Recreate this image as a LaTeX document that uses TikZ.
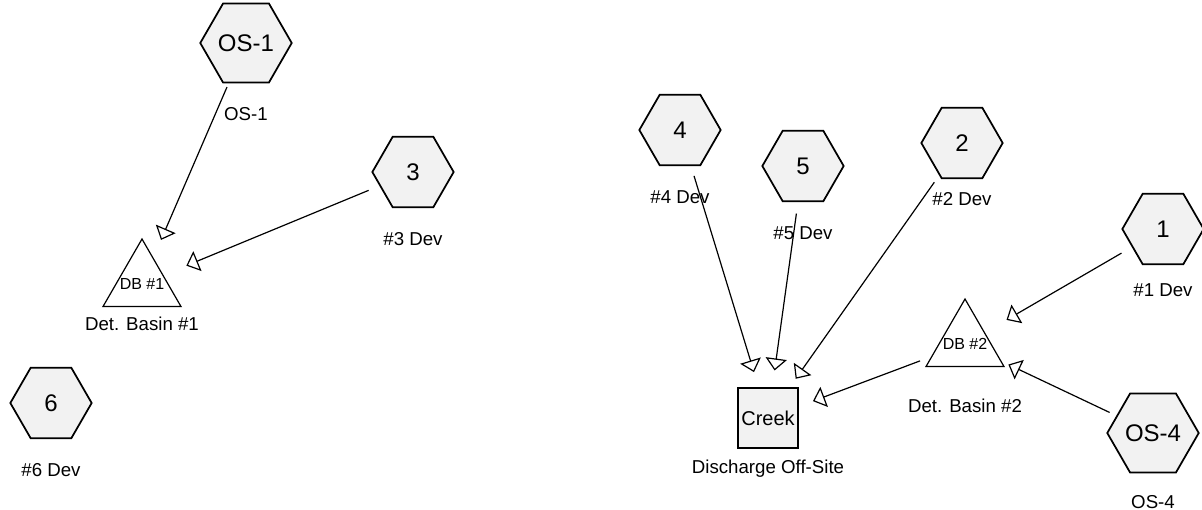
\documentclass[tikz,border=0pt]{standalone}
\usepackage{fontspec}
\setmainfont{Liberation Sans}
\usetikzlibrary{shapes.geometric,positioning,arrows.meta}

\begin{document}
\begin{tikzpicture}[x=0.75pt,y=-0.75pt,
  hexa/.style={regular polygon,regular polygon sides=6,draw,line width=1.3pt,fill=gray!10,minimum size=61pt,inner sep=0pt,font=\fontsize{18}{18}\selectfont},
  basin/.style={regular polygon,regular polygon sides=3,draw,line width=0.9pt,minimum size=67.5pt,inner sep=0pt},
  basintext/.style={font=\fontsize{12}{12}\selectfont,inner sep=0pt},
  outfall/.style={rectangle,draw,line width=1.3pt,fill=gray!10,minimum size=45pt,inner sep=0pt,font=\fontsize{15}{15}\selectfont},
  lbl/.style={inner sep=0pt,font=\fontsize{14}{14}\selectfont},
  flow/.style={-{Triangle[open,length=9pt,width=16pt]},line width=0.9pt,shorten <=36pt,shorten >=36pt}]

\useasboundingbox (0,0) rectangle (1202,510);

\node[hexa] (os1) at (246,43) {OS-1};
\node[hexa] (h3) at (413,172) {3};
\node[hexa] (h6) at (51,403) {6};
\node[hexa] (h4) at (680,130) {4};
\node[hexa] (h5) at (803,166) {5};
\node[hexa] (h2) at (962,143) {2};
\node[hexa] (h1) at (1163,229) {1};
\node[hexa] (os4) at (1153,433) {OS-4};
\node[basin,label={[basintext]center:DB \#1}] (db1) at (142,284) {};
\node[basin,label={[basintext]center:DB \#2}] (db2) at (965,344) {};
\node[outfall] (creek) at (768,418) {Creek};

\node[lbl, below=18pt of os1] (los1) {OS-1};
\node[lbl, below=18pt of h3] (l3) {\#3 Dev};
\node[lbl, below=18pt of h6] (l6) {\#6 Dev};
\node[lbl, below=18pt of h4] (l4) {\#4 Dev};
\node[lbl, below=18pt of h5] (l5) {\#5 Dev};
\node[lbl, below=10pt of h2] (l2) {\#2 Dev};
\node[lbl, below=14pt of h1] (l1) {\#1 Dev};
\node[lbl, below=16pt of os4] (los4) {OS-4};
\node[lbl, below=7pt of db1] (ldb1) {Det. Basin \#1};
\node[lbl, below=24pt of db2] (ldb2) {Det. Basin \#2};
\node[lbl, below=8pt of creek] (lcreek) {Discharge Off-Site};

\draw[flow] (os1.center) -- (db1.center);
\draw[flow] (h3.center) -- (db1.center);
\draw[flow] (h4.center) -- (creek.center);
\draw[flow] (h5.center) -- (creek.center);
\draw[flow] (h2.center) -- (creek.center);
\draw[flow] (db2.center) -- (creek.center);
\draw[flow] (h1.center) -- (db2.center);
\draw[flow] (os4.center) -- (db2.center);

\end{tikzpicture}
\end{document}
